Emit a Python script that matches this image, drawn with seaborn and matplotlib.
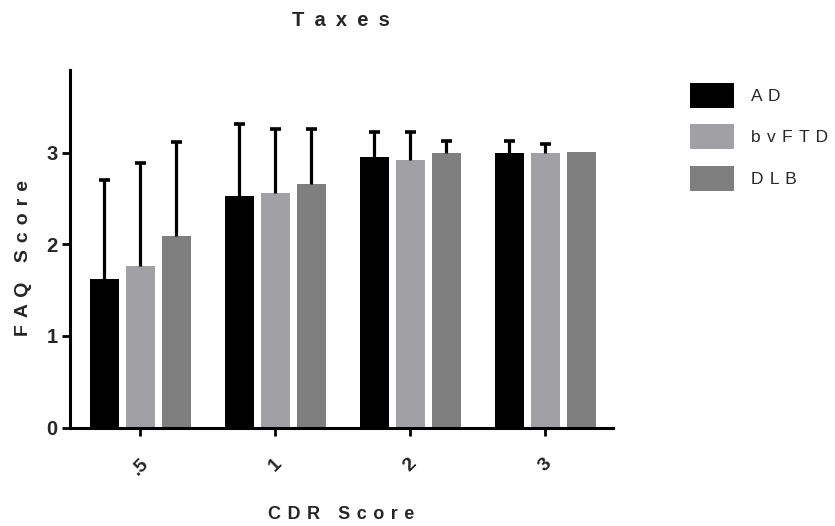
import matplotlib
matplotlib.use("Agg")
import matplotlib.pyplot as plt
import seaborn as sns
import pandas as pd
import numpy as np

# ---- data ----
categories = [".5", "1", "2", "3"]
groups = ["AD", "bvFTD", "DLB"]
ad_mean = [1.62, 2.53, 2.95, 2.99]
bvftd_mean = [1.76, 2.56, 2.92, 3.00]
dlb_mean = [2.09, 2.66, 2.99, 3.01]
ad_sd = [1.08, 0.78, 0.27, 0.14]
bvftd_sd = [1.13, 0.70, 0.30, 0.09]
dlb_sd = [1.03, 0.60, 0.14, np.nan]
colors = ["#000000", "#a1a0a5", "#7f7f7f"]

means = {"AD": ad_mean, "bvFTD": bvftd_mean, "DLB": dlb_mean}
sds = {"AD": ad_sd, "bvFTD": bvftd_sd, "DLB": dlb_sd}

rows = []
for g in groups:
    for c, v in zip(categories, means[g]):
        rows.append({"CDR": c, "Group": g, "FAQ": v})
df = pd.DataFrame(rows)

def spaced(s, sep=" "):
    return sep.join(list(s))

sns.set_theme(style="ticks")
plt.rcParams["font.family"] = ["Liberation Sans", "DejaVu Sans"]
plt.rcParams["font.weight"] = "bold"

fig = plt.figure(figsize=(8.35, 5.26), dpi=100)
ax = fig.add_axes([70/835, 1-427.5/526, (613-70)/835, (427.5-70)/526])

sns.barplot(data=df, x="CDR", y="FAQ", hue="Group", order=categories,
            hue_order=groups, palette=colors, errorbar=None, width=0.8,
            gap=0.19, saturation=1, ax=ax, linewidth=0, legend=True)

# upward-only error bars with caps
for cont, g in zip(ax.containers, groups):
    sd = np.array(sds[g], dtype=float)
    for b, s in zip(cont, sd):
        if np.isnan(s) or s <= 0:
            continue
        xc = b.get_x() + b.get_width() / 2
        y0 = b.get_height()
        hw = b.get_width() * 0.19
        ax.vlines(xc, y0, y0 + s, color="black", linewidth=2.3, zorder=3)
        ax.hlines(y0 + s, xc - hw, xc + hw, color="black", linewidth=2.6,
                  zorder=3)

ax.set_ylim(0, 3.9)
ax.set_xlim(-0.52, 3.5)
ax.set_yticks([0, 1, 2, 3])
ax.set_yticklabels(["0", "1", "2", "3"], fontsize=14.5, fontweight="bold")
ax.set_xticks(range(len(categories)))
ax.set_xticklabels(categories, rotation=45, fontsize=14, fontweight="bold")
ax.tick_params(axis="both", length=6, width=2, color="black")
ax.tick_params(axis="y", pad=3)
ax.tick_params(axis="x", pad=14)
for sp in ["left", "bottom"]:
    ax.spines[sp].set_linewidth(2.2)
    ax.spines[sp].set_color("black")
sns.despine(ax=ax)

ax.set_xlabel(spaced("CDR Score", " \u200a"), fontsize=13, fontweight="bold")
ax.xaxis.set_label_coords(0.5, (427.5 - 506) / 357.5)
ax.set_ylabel(spaced("FAQ Score", " \u200a"), fontsize=14, fontweight="bold")
ax.yaxis.set_label_coords((32 - 70) / 543, (427.5 - 258) / 357.5)
fig.text(341/835, 1-20/526, spaced("Taxes", "\u2002"), ha="center",
         va="center", fontsize=14.5, fontweight="bold")

handles, labels = ax.get_legend_handles_labels()
ax.legend(handles, [spaced(l, " \u200a") for l in labels], loc="upper left",
          bbox_to_anchor=(683/835, 1-76/526), bbox_transform=fig.transFigure,
          frameon=False, prop={"size": 12.5, "weight": "normal"},
          handlelength=2.53, handleheight=1.83, labelspacing=0.95,
          handletextpad=1.0, borderaxespad=0)

fig.savefig("out.png", dpi=100)
